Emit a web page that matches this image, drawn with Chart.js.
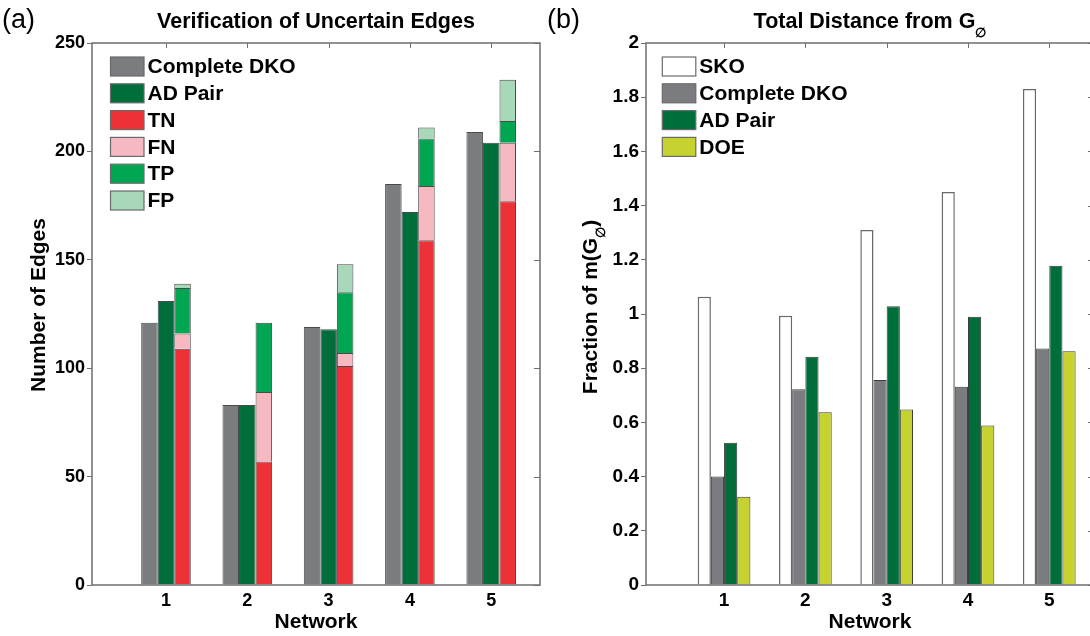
<!DOCTYPE html>
<html>
<head>
<meta charset="utf-8">
<title>Uncertain edges / distance from G∅</title>
<script src="https://cdn.jsdelivr.net/npm/chart.js@4.4.1/dist/chart.umd.min.js"></script>
<style>
  html, body { margin: 0; padding: 0; background: #fff; overflow: hidden; }
  #wrap { position: relative; width: 1090px; height: 636px; overflow: hidden; }
  .panel { position: absolute; top: 0; height: 636px; }
  #pa { left: 0; width: 545px; }
  #pb { left: 545px; width: 560px; }
</style>
</head>
<body>
<div id="wrap">
  <div class="panel" id="pa"><canvas id="chartA"></canvas></div>
  <div class="panel" id="pb"><canvas id="chartB"></canvas></div>
</div>
<script>
const FONT = '"Liberation Sans", Arial, Helvetica, sans-serif';
Chart.defaults.font.family = FONT;
Chart.defaults.color = '#000';
Chart.defaults.animation = false;

const networks = [1, 2, 3, 4, 5];

// (a) verification of uncertain edges
const dkoEdges = [121, 83, 119, 185, 209];
const adPairEdges = [131, 83, 118, 172, 204];
const tnEdges = [109, 57, 101, 159, 177];
const fnEdges = [7, 32, 6, 25, 27];
const tpEdges = [21, 32, 28, 22, 10];
const fpEdges = [2, 0, 13, 5, 19];
const edgeTicks = [0, 50, 100, 150, 200, 250];

// (b) total distance from G_empty, as fraction of m(G_empty)
const skoFrac = [1.064, 0.994, 1.31, 1.45, 1.83];
const dkoFrac = [0.4, 0.722, 0.756, 0.732, 0.873];
const adPairFrac = [0.525, 0.842, 1.029, 0.99, 1.178];
const doeFrac = [0.326, 0.637, 0.648, 0.589, 0.863];
const fracTicks = [0, 0.2, 0.4, 0.6, 0.8, 1, 1.2, 1.4, 1.6, 1.8, 2];

const FRAME = '#6e6e6e';

function bold(size) {
  return 'bold ' + size + 'px ' + FONT;
}

// text with an optional subscript piece, centred on cx
function drawRich(ctx, parts, cx, y, size) {
  const subSize = size * 0.62;
  const widths = parts.map(p => {
    ctx.font = bold(p[1] ? subSize : size);
    return ctx.measureText(p[0]).width;
  });
  let x = cx - widths.reduce((s, w) => s + w, 0) / 2;
  ctx.textAlign = 'left';
  ctx.textBaseline = 'alphabetic';
  parts.forEach((p, i) => {
    ctx.font = bold(p[1] ? subSize : size);
    ctx.fillText(p[0], x, p[1] ? y + size * 0.4 : y);
    x += widths[i];
  });
}

// box, inner ticks on top/right, legend in the corner, titles
const decor = {
  id: 'decor',
  afterDatasetsDraw(chart, args, o) {
    const { ctx, chartArea: a } = chart;
    const xs = chart.scales.x, ys = chart.scales.y;
    ctx.save();
    ctx.strokeStyle = FRAME;
    ctx.lineWidth = 1;
    ctx.beginPath();
    xs.ticks.forEach(t => {
      const px = Math.round(xs.getPixelForValue(t.value)) + 0.5;
      ctx.moveTo(px, a.top);
      ctx.lineTo(px, a.top + 5);
    });
    ys.ticks.forEach(t => {
      const py = Math.round(ys.getPixelForValue(t.value)) + 0.5;
      ctx.moveTo(a.right, py);
      ctx.lineTo(a.right - 6, py);
    });
    ctx.stroke();
    ctx.lineWidth = 1.5;
    ctx.strokeRect(a.left, a.top, a.right - a.left, a.bottom - a.top);

    chart.data.datasets.forEach((ds, i) => {
      const bx = a.left + o.legendX;
      const cy = a.top + 23.5 + i * 26.8;
      ctx.fillStyle = ds.backgroundColor;
      ctx.fillRect(bx, cy - 9.5, 33.5, 19);
      ctx.strokeStyle = '#6a6a6a';
      ctx.lineWidth = 1.2;
      ctx.strokeRect(bx, cy - 9.5, 33.5, 19);
      ctx.fillStyle = '#000';
      ctx.font = bold(21);
      ctx.textAlign = 'left';
      ctx.textBaseline = 'middle';
      ctx.fillText(ds.label, bx + 37, cy + 1);
    });

    ctx.fillStyle = '#000';
    ctx.font = '27px ' + FONT;
    ctx.textAlign = 'left';
    ctx.textBaseline = 'alphabetic';
    ctx.fillText(o.tag, 2, 28);

    drawRich(ctx, [[o.title, false], [o.titleSub, true]], (a.left + a.right) / 2, 28, 21.5);

    ctx.translate(o.yTitleX, o.yTitleY);
    ctx.rotate(-Math.PI / 2);
    drawRich(ctx, [[o.yTitle, false], [o.yTitleSub, true], [o.yTitleTail, false]], 0, 7.5, 21);
    ctx.restore();
  }
};

function xAxis(min, max, tickSize, pad) {
  return {
    type: 'linear',
    min: min,
    max: max,
    offset: false,
    grid: { display: false, drawTicks: false, offset: false },
    border: { display: false },
    afterBuildTicks: s => { s.ticks = networks.map(v => ({ value: v })); },
    afterFit: s => { s.height = 51; },
    ticks: { font: { size: tickSize, weight: 'bold' }, padding: pad, callback: v => String(v) },
    title: { display: true, text: 'Network', font: { size: 21, weight: 'bold' }, padding: { top: 0, bottom: 1.5 } }
  };
}

function yAxis(ticks, width, tickSize, extra) {
  return Object.assign({
    min: ticks[0],
    max: ticks[ticks.length - 1],
    grid: { drawOnChartArea: false, drawTicks: true, tickLength: 5, color: FRAME, lineWidth: 1 },
    border: { display: false },
    afterBuildTicks: s => { s.ticks = ticks.map(v => ({ value: v })); },
    afterFit: s => { s.width = width; },
    ticks: { font: { size: tickSize, weight: 'bold' }, padding: 2, callback: v => String(v) }
  }, extra);
}

const barA = { borderWidth: 1, borderColor: '#4a4a4a', barPercentage: 1, categoryPercentage: 0.61 };

new Chart(document.getElementById('chartA'), {
  type: 'bar',
  data: {
    labels: networks,
    datasets: [
      Object.assign({ label: 'Complete DKO', data: dkoEdges, backgroundColor: '#7a7c80', stack: 'dko' }, barA),
      Object.assign({ label: 'AD Pair', data: adPairEdges, backgroundColor: '#006e3a', stack: 'ad' }, barA),
      Object.assign({ label: 'TN', data: tnEdges, backgroundColor: '#ed3237', stack: 'check' }, barA),
      Object.assign({ label: 'FN', data: fnEdges, backgroundColor: '#f6b9c1', stack: 'check' }, barA),
      Object.assign({ label: 'TP', data: tpEdges, backgroundColor: '#00a651', stack: 'check' }, barA),
      Object.assign({ label: 'FP', data: fpEdges, backgroundColor: '#a8d8b9', stack: 'check' }, barA)
    ]
  },
  options: {
    responsive: true,
    maintainAspectRatio: false,
    layout: { padding: { left: 0, right: 5, top: 43, bottom: 0 } },
    plugins: {
      legend: { display: false },
      tooltip: { enabled: false },
      decor: {
        tag: '(a)', title: 'Verification of Uncertain Edges', titleSub: '',
        yTitle: 'Number of Edges', yTitleSub: '', yTitleTail: '',
        yTitleX: 37, yTitleY: 305, legendX: 18.5
      }
    },
    scales: {
      x: xAxis(0.09, 5.6, 18, 5),
      y: yAxis(edgeTicks, 92, 18, { stacked: true })
    }
  },
  plugins: [decor]
});

const barB = { borderWidth: 1, borderColor: '#3c3c3c', barPercentage: 1, categoryPercentage: 0.648 };

new Chart(document.getElementById('chartB'), {
  type: 'bar',
  data: {
    labels: networks,
    datasets: [
      Object.assign({}, barB, { label: 'SKO', data: skoFrac, backgroundColor: '#ffffff', borderColor: '#6a6a6a', borderWidth: 1.5 }),
      Object.assign({ label: 'Complete DKO', data: dkoFrac, backgroundColor: '#7a7c80' }, barB),
      Object.assign({ label: 'AD Pair', data: adPairFrac, backgroundColor: '#006e3a' }, barB),
      Object.assign({ label: 'DOE', data: doeFrac, backgroundColor: '#c6d22f' }, barB)
    ]
  },
  options: {
    responsive: true,
    maintainAspectRatio: false,
    layout: { padding: { left: 0, right: 11, top: 43, bottom: 0 } },
    plugins: {
      legend: { display: false },
      tooltip: { enabled: false },
      decor: {
        tag: '(b)', title: 'Total Distance from G', titleSub: '\u2205',
        yTitle: 'Fraction of m(G', yTitleSub: '\u2205', yTitleTail: ')',
        yTitleX: 44, yTitleY: 307, legendX: 16.3
      }
    },
    scales: {
      x: xAxis(0.04, 5.55, 19, 4),
      y: yAxis(fracTicks, 101, 19, {})
    }
  },
  plugins: [decor]
});
</script>
</body>
</html>
